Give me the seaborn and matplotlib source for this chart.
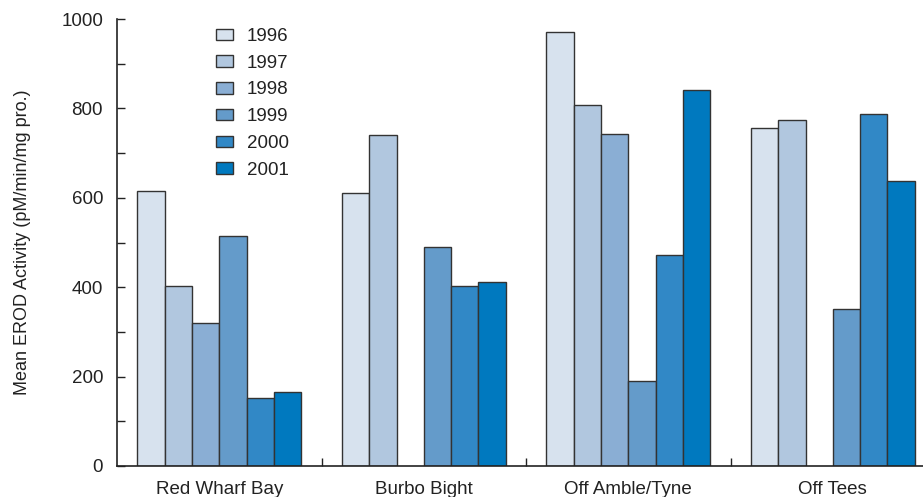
import numpy as np
import pandas as pd
import matplotlib
matplotlib.use("Agg")
import matplotlib.pyplot as plt
import seaborn as sns

sites = ["Red Wharf Bay", "Burbo Bight", "Off Amble/Tyne", "Off Tees"]
years = ["1996", "1997", "1998", "1999", "2000", "2001"]
erod_1996 = [615, 610, 970, 757]
erod_1997 = [402, 741, 807, 773]
erod_1998 = [319, np.nan, 743, np.nan]
erod_1999 = [514, 491, 190, 351]
erod_2000 = [153, 403, 472, 787]
erod_2001 = [165, 412, 841, 637]
colors = ["#d7e2ee", "#b1c7df", "#8aaed4", "#649bca", "#3188c6", "#0079bf"]

series = [erod_1996, erod_1997, erod_1998, erod_1999, erod_2000, erod_2001]
rows = []
for yr, vals in zip(years, series):
    for site, v in zip(sites, vals):
        rows.append({"site": site, "year": yr, "erod": v})
df = pd.DataFrame(rows)

sns.set_theme(style="white")
plt.rcParams["font.family"] = ["Liberation Sans", "DejaVu Sans"]

fig = plt.figure(figsize=(9.23, 4.97), dpi=100)
ax = fig.add_axes([117 / 923, 31 / 497, 1 - 117 / 923 + 0.002, 447 / 497])

sns.barplot(data=df.dropna(), x="site", y="erod", hue="year",
            order=sites, hue_order=years, palette=colors,
            width=0.8, errorbar=None, edgecolor="#333333", linewidth=1.0,
            saturation=1, ax=ax)

ax.set_xlim(-0.5, 3.45)
ax.set_ylim(0, 1000)
ax.set_yticks([0, 200, 400, 600, 800, 1000])
ax.set_yticks([100, 300, 500, 700, 900], minor=True)
ax.set_xticks([0.5, 1.5, 2.5], minor=True)

for s in ["top", "right"]:
    ax.spines[s].set_visible(False)
for s in ["left", "bottom"]:
    ax.spines[s].set_color("#222222")
    ax.spines[s].set_linewidth(1.2)

ax.tick_params(axis="y", which="both", direction="in", length=6, width=1.0,
               color="#222222", left=True, labelsize=13.5, pad=10,
               labelcolor="#222222")
ax.tick_params(axis="x", which="major", length=0, labelsize=13.5, pad=11,
               labelcolor="#222222")
ax.tick_params(axis="x", which="minor", direction="in", length=6, width=1.0,
               color="#222222", bottom=True)

ax.set_xlabel("")
ax.set_ylabel("Mean EROD Activity (pM/min/mg pro.)", fontsize=13,
              color="#222222", labelpad=22)

leg = ax.legend(loc="upper left", bbox_to_anchor=(216 / 923, 1 - 28 / 497),
                bbox_transform=fig.transFigure, frameon=False, fontsize=13.5,
                handlelength=0.9, handleheight=0.55, handletextpad=0.75,
                labelspacing=0.52, borderaxespad=0, borderpad=0)
for t in leg.get_texts():
    t.set_color("#222222")

fig.savefig("out.png", dpi=100)
